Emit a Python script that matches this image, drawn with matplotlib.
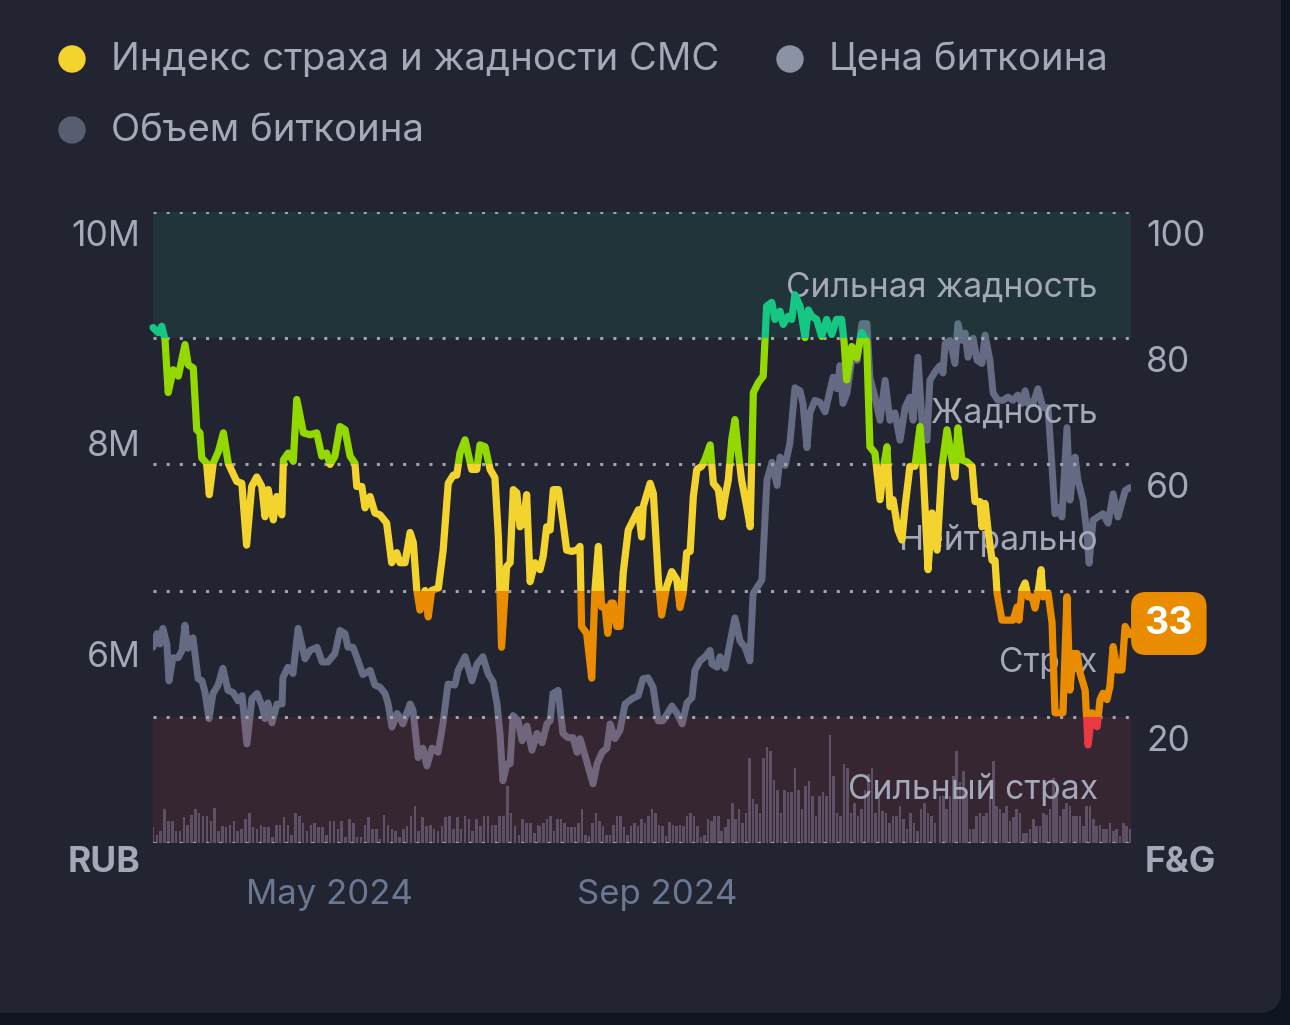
import numpy as np
import matplotlib
matplotlib.use("Agg")
import matplotlib.pyplot as plt
import matplotlib.dates as mdates
from matplotlib.patches import Circle, FancyBboxPatch, Rectangle
from matplotlib.transforms import ScaledTranslation

plt.rcParams['font.family'] = ['Inter', 'DejaVu Sans']

# ---- data ----
start_date = np.datetime64('2024-02-25')

# Fear & Greed index: day offset from start_date, value
fg_day = [0, 2.0, 3.3, 4.5, 5.7, 7.6, 9.5, 12.0, 13.2, 15.1, 16.4, 17.6, 18.3, 20.1, 21.1, 22.6,
          24.5, 26.4, 28.2, 29.5, 31.4, 33.3, 35.1, 37.0, 38.9, 40.8, 42.0, 43.2, 45.1, 46.4,
          48.3, 48.9, 50.7, 52.6, 53.9, 56.4, 58.9, 61.4, 63.3, 65.1, 66.4, 68.2, 70.1, 72.0,
          73.9, 75.7, 76.4, 78.3, 79.5, 81.4, 83.2, 85.1, 87.6, 89.5, 91.4, 92.6, 94.5, 96.4,
          97.6, 98.9, 100.1, 102.0, 103.2, 104.5, 107.0, 108.8, 110.7, 112.6, 113.9, 115.1,
          117.0, 119.5, 121.4, 122.6, 124.5, 126.4, 128.2, 129.5, 130.7, 132.6, 133.9, 135.1,
          136.4, 137.6, 138.9, 140.1, 141.4, 143.2, 145.1, 146.3, 147.6, 148.9, 150.1, 152.0,
          153.8, 155.1, 157.0, 158.9, 160.1, 160.7, 162.6, 164.5, 165.7, 167.0, 168.2, 169.5,
          170.5, 171.7, 172.6, 173.9, 175.1, 176.3, 178.2, 180.1, 182.0, 183.2, 183.8, 186.4,
          187.6, 189.5, 190.7, 192.6, 194.5, 196.4, 197.6, 198.8, 200.1, 201.4, 202.6, 203.9,
          205.7, 207.0, 208.9, 210.1, 212.0, 213.3, 214.5, 215.7, 217.0, 218.2, 219.5, 220.7,
          222.6, 223.9, 225.1, 227.0, 228.8, 230.1, 232.0, 233.2, 235.1, 236.3, 238.2, 239.5,
          240.7, 242.6, 244.5, 245.7, 247.0, 248.8, 250.7, 252.6, 254.5, 256.3, 258.2, 259.1,
          260.1, 262.0, 263.9, 265.7, 267.6, 268.8, 270.7, 272.6, 274.1, 275.2, 276.3, 277.5,
          279.3, 280.8, 282.0, 283.8, 285.7, 287.6, 288.7, 290.6, 292.1, 294.0, 295.8, 297.7,
          299.6, 300.7, 301.8, 303.3, 305.2, 307.1, 308.2, 310.1, 310.8, 312.0, 313.1, 314.6,
          315.7, 316.5, 318.3, 320.6, 322.5, 324.0, 324.7, 325.8, 327.0, 328.1, 329.6, 330.7,
          331.8, 333.0, 333.7, 335.6, 337.1, 338.2, 340.1, 341.2, 342.7, 343.8, 345.0, 346.5,
          347.6, 349.5, 350.6, 352.1, 354.0, 355.1, 356.2, 357.7, 358.8, 360.0, 361.5, 363.3,
          364.5, 366.3]
fg_val = [81.7, 80.9, 81.9, 79.8, 71.4, 75, 74, 79, 75.8, 75.3, 65.5, 65, 61, 60.2, 55.2, 60.2,
          62, 65, 60.2, 59, 57.3, 57, 47.2, 56.5, 58, 56.5, 51.7, 56, 51.2, 54.9,
          52, 60.7, 61.8, 60.5, 70.3, 65, 64.7, 65, 61.3, 61.8, 60, 61.3, 66, 65.5,
          61.3, 60.2, 56.5, 56.5, 53.1, 54.9, 52.3, 52, 50.7, 44.4, 46, 44.4, 44.4, 49.2,
          47.6, 40.1, 36.9, 40, 35.8, 40, 40.4, 46.4, 57, 58.3, 58.3, 61.8,
          63.9, 59.2, 59.2, 63.1, 62.8, 59.2, 57.9, 48.5, 31, 43.8, 44.4, 56,
          55.5, 50.1, 50.7, 55.2, 41.4, 44.4, 43.3, 45.4, 50.1, 49.6, 56, 56,
          50.7, 46.4, 46.2, 46.4, 47, 34.3, 33.2, 26.1, 40, 47, 37.4, 37.4,
          33.2, 38, 38, 34.3, 34.3, 42.8, 49.6, 51.2, 52.8, 48.5, 53.3, 57,
          55.4, 41.7, 36.1, 40.6, 43, 41.7, 37.3, 39.6, 46, 46.2, 54.9, 59.2,
          59.7, 60.8, 63.1, 57, 56, 51.7, 54.9, 57.5, 63.9, 67.1, 61.8, 57.5,
          53.3, 50.1, 71.4, 73, 74, 85.1, 85.7, 83, 84.3, 82.2, 83.5, 83,
          86.9, 85.1, 80.1, 84.5, 83.5, 83, 80.3, 83, 80.6, 83, 83, 79.5,
          73.4, 78.7, 76.9, 80.9, 79.5, 62.8, 61.8, 54.4, 60, 62.8, 53.3, 54.4,
          49.6, 48, 53.3, 59.7, 59.7, 66, 59.7, 43.3, 52.3, 46.4, 59.6, 65.5,
          60.7, 58, 65.8, 60.7, 60.4, 59.7, 54.1, 54.1, 50.1, 53.8, 49.6, 44.8,
          44.8, 39.6, 35.3, 35.3, 35.3, 37.4, 35.3, 40.1, 41.2, 39, 39, 37.2,
          39.6, 43.3, 39, 39.6, 34.9, 20.6, 20.6, 20.6, 39, 24.2, 30, 30,
          26.9, 24.2, 15.5, 20.6, 18.4, 22.7, 23.7, 22.7, 24.8, 31.1, 27.4, 27.4,
          34.3, 33]

# Bitcoin price, million RUB
price_day = [0, 1.5, 2.6, 3.7, 5.2, 6.0, 7.5, 9.4, 10.9, 12.0, 13.1, 15.0, 16.9, 18.4, 19.5, 21.0,
             22.5, 24.4, 26.2, 28.1, 30.0, 31.9, 33.4, 35.2, 37.1, 39.0, 40.9, 42.0, 43.1, 44.6,
             46.5, 48.4, 48.7, 50.6, 52.5, 54.4, 57.0, 58.9, 61.5, 63.4, 65.6, 68.2, 70.1, 72.0,
             73.1, 75.0, 76.9, 78.7, 81.4, 83.2, 85.1, 87.0, 88.1, 89.6, 91.5, 92.6, 93.7, 96.4,
             97.5, 99.4, 101.2, 102.7, 104.6, 106.9, 108.7, 110.6, 113.2, 114.4, 117.0, 119.6,
             121.5, 123.7, 125.6, 127.5, 129.0, 130.1, 131.2, 132.7, 133.9, 135.0, 136.9, 138.4,
             140.2, 142.1, 144.0, 145.9, 147.7, 148.9, 150.0, 151.9, 153.7, 155.6, 157.5, 159.0,
             160.1, 162.0, 163.9, 165.0, 166.5, 168.4, 170.2, 171.4, 173.2, 175.1, 177.0, 179.6,
             181.9, 183.7, 185.6, 187.5, 189.4, 191.2, 194.6, 196.5, 198.4, 200.2, 202.1, 203.2,
             205.1, 207.0, 208.9, 209.6, 211.5, 212.6, 214.5, 216.3, 218.2, 220.1, 222.0, 223.8,
             225.0, 226.5, 228.3, 230.2, 232.1, 234.0, 235.1, 237.0, 238.8, 240.7, 242.6, 243.7,
             245.2, 246.3, 248.2, 250.1, 252.0, 253.8, 255.0, 256.5, 257.6, 258.7, 260.2, 262.1,
             264.0, 265.8, 267.7, 268.8, 270.7, 272.6, 274.5, 276.3, 278.2, 280.1, 282.0, 283.8,
             285.0, 286.8, 288.7, 290.2, 291.3, 293.2, 295.1, 296.2, 297.0, 298.8, 300.7, 301.8,
             303.3, 304.5, 305.6, 307.5, 309.0, 310.8, 312.0, 313.8, 315.0, 316.8, 318.7, 320.6,
             322.5, 324.3, 325.8, 327.0, 328.1, 330.0, 331.8, 333.7, 335.6, 337.1, 338.2, 339.3,
             340.8, 342.7, 343.8, 345.7, 346.8, 348.7, 350.2, 351.0, 352.5, 354.3, 356.2, 358.1,
             360.0, 361.8, 364.5, 366.3]
price_val = [5.86, 5.99, 5.89, 6.04, 5.89, 5.54, 5.76, 5.76, 5.83, 6.07, 5.85, 5.95, 5.56, 5.54, 5.43, 5.18,
             5.42, 5.5, 5.66, 5.45, 5.43, 5.35, 5.4, 4.94, 5.37, 5.42, 5.3, 5.18, 5.33, 5.14,
             5.32, 5.32, 5.57, 5.67, 5.61, 6.04, 5.75, 5.83, 5.86, 5.72, 5.72, 5.8, 6.02, 5.99,
             5.86, 5.86, 5.73, 5.6, 5.64, 5.5, 5.48, 5.42, 5.33, 5.1, 5.23, 5.19, 5.13, 5.32,
             5.26, 4.81, 4.9, 4.73, 4.9, 4.86, 5.13, 5.51, 5.5, 5.64, 5.77, 5.54,
             5.7, 5.77, 5.61, 5.53, 5.32, 5.04, 4.59, 4.75, 4.75, 5.21, 5.16, 4.97,
             5.11, 4.88, 5.04, 4.95, 5.13, 5.16, 5.42, 5.45, 5.04, 5.0, 5.0, 4.86,
             4.99, 4.83, 4.66, 4.56, 4.75, 4.86, 4.9, 5.13, 4.99, 5.07, 5.32, 5.37,
             5.4, 5.56, 5.57, 5.48, 5.16, 5.16, 5.3, 5.23, 5.13, 5.33, 5.38, 5.64,
             5.73, 5.77, 5.83, 5.7, 5.67, 5.77, 5.66, 5.9, 6.14, 5.92, 5.86, 5.73,
             6.37, 6.43, 6.5, 7.45, 7.62, 7.4, 7.67, 7.59, 7.8, 8.33, 8.3, 8.18,
             7.76, 8.09, 8.21, 8.19, 8.1, 8.3, 8.43, 8.32, 8.54, 8.18, 8.28, 8.62,
             8.59, 8.94, 8.94, 8.43, 8.24, 8.02, 8.4, 8.02, 8.09, 7.83, 8.14, 8.24,
             8.02, 8.62, 7.86, 7.83, 8.4, 8.48, 8.54, 8.47, 8.75, 8.78, 8.56, 8.94,
             8.78, 8.85, 8.62, 8.8, 8.59, 8.56, 8.83, 8.59, 8.28, 8.21, 8.21, 8.24,
             8.21, 8.26, 8.18, 8.3, 8.18, 8.18, 8.32, 8.14, 8.14, 7.57, 7.13, 7.19,
             7.1, 7.95, 7.26, 7.67, 7.45, 7.26, 6.94, 6.66, 7.07, 7.1, 7.13, 7.04,
             7.32, 7.1, 7.35, 7.38]

# Bitcoin volume (bn), read in three stretches of dates
vol_early_span = (0.0, 144.4)
vol_early = [17, 9, 13, 37, 24, 24, 13, 13, 28, 20, 31, 37, 33, 30, 30, 24, 38, 13, 19, 17,
             20, 24, 13, 15, 26, 33, 17, 15, 20, 17, 17, 6, 20, 20, 28, 20, 9, 33, 30, 22,
             13, 20, 22, 17, 17, 9, 24, 24, 15, 24, 6, 26, 22, 6, 6, 20, 28, 15, 15, 4,
             31, 20, 15, 13, 6, 15, 19, 30, 41, 13, 28, 19, 20, 15, 13, 19, 28, 30, 15, 28,
             15, 30, 26, 13, 26, 19, 30, 30, 20, 20, 30, 30, 63, 33, 19, 9, 26, 22, 22, 11, 20]
vol_mid_span = (145.1, 293.2)
vol_mid = [19, 22, 26, 30, 13, 26, 26, 22, 17, 17, 17, 22, 37, 9, 7, 22, 33, 24, 19, 9,
           9, 20, 30, 30, 17, 9, 19, 22, 19, 26, 22, 30, 37, 33, 20, 19, 7, 23, 20, 19,
           20, 19, 30, 33, 30, 19, 6, 9, 26, 24, 30, 30, 13, 17, 26, 44, 26, 37, 22, 33,
           94, 48, 43, 33, 94, 106, 102, 70, 59, 33, 59, 56, 56, 83, 59, 37, 63, 69, 52, 30,
           52, 56, 52, 120, 74, 33, 30, 87, 83, 33, 44, 30, 37, 59, 76, 83, 33, 56, 35, 33,
           22, 30, 30, 41, 26, 15, 33, 22, 13, 37, 44, 33, 30, 22]
vol_late_span = (295.1, 366.3)
vol_late = [52, 52, 37, 52, 74, 102, 67, 80, 52, 15, 15, 30, 33, 30, 33, 52, 91, 41, 37, 33,
            41, 24, 28, 37, 33, 11, 11, 15, 26, 19, 19, 33, 31, 37, 72, 52, 30, 37, 44, 41,
            30, 30, 30, 19, 41, 41, 26, 19, 20, 15, 15, 22, 13, 15, 7, 22, 19, 15]

zones = [(80, 200, '#16c784'), (60, 80, '#93d900'), (40, 60, '#f3d42f'),
         (20, 40, '#ea8c00'), (-100, 20, '#ea3943')]
zone_labels = ['Сильная жадность', 'Жадность', 'Нейтрально', 'Страх', 'Сильный страх']
zone_label_pos = [88, 68, 48, 28.5, 8.5]
fg_ticks = [100, 80, 60, 20]
price_ticks = [6, 8, 10]
price_tick_labels = ['6M', '8M', '10M']
current_fg = '33'

# ---- colours ----
card_bg = '#222431'
outer_bg = '#0e1420'
text_col = '#a4a9ba'
date_col = '#6b7891'
price_col = '#646b82'
vol_col = '#4f5369'
grid_col = '#a0a4ae'

x0 = mdates.date2num(start_date)
fg_x = x0 + np.array(fg_day)
price_x = x0 + np.array(price_day)
xlim = (x0, x0 + 366.7)

fig = plt.figure(figsize=(12.9, 10.25), dpi=100)
fig.patch.set_facecolor(outer_bg)

# background card + legend, in pixel coordinates
bg = fig.add_axes([0, 0, 1, 1])
bg.set_xlim(0, 1290)
bg.set_ylim(1025, 0)
bg.axis('off')
bg.add_patch(FancyBboxPatch((-40, -40), 1321, 1053, boxstyle='round,pad=0,rounding_size=22',
                            fc=card_bg, ec='none'))
legend = [((72, 59), '#f3d42f', 'Индекс страха и жадности CMC'),
          ((790, 59), '#8c92a6', 'Цена биткоина'),
          ((72, 130), '#585e72', 'Объем биткоина')]
for (cx, cy), c, lab in legend:
    bg.add_patch(Circle((cx, cy), 13, color=c))
    bg.text(cx + 39, cy + 1, lab, fontsize=27.5, color=text_col, va='center', ha='left')
bg.text(140, 862, 'RUB', ha='right', va='center', fontsize=25.5, weight='bold', color=text_col)
bg.text(1145, 862, 'F&G', ha='left', va='center', fontsize=25.5, weight='bold', color=text_col)

rect = [153 / 1290, (1025 - 842.7) / 1025, 978 / 1290, 630.5 / 1025]
ax_vol = fig.add_axes(rect)
ax_price = fig.add_axes(rect)
ax = fig.add_axes(rect)
for a in (ax_vol, ax_price, ax):
    a.set_facecolor('none')
    for s in a.spines.values():
        s.set_visible(False)
    a.set_xlim(*xlim)
    a.tick_params(length=0)

# volume bars
for vals, (d0, d1) in [(vol_early, vol_early_span), (vol_mid, vol_mid_span), (vol_late, vol_late_span)]:
    xs = x0 + np.linspace(d0, d1, len(vals))
    ax_vol.bar(xs, vals, width=0.95, color=vol_col, linewidth=0)
ax_vol.set_ylim(0, 700)
ax_vol.set_xticks([])
ax_vol.set_yticks([])

# price line
ax_price.plot(price_x, price_val, color=price_col, lw=5, solid_joinstyle='round',
              solid_capstyle='round')
ax_price.set_ylim(4, 10)
ax_price.set_xticks([])
ax_price.set_yticks(price_ticks, labels=price_tick_labels)
ax_price.tick_params(axis='y', labelsize=25.5, labelcolor=text_col, pad=9)

# F&G layer
ax.set_ylim(0, 100)
ax.axhspan(80, 100, color='#16c784', alpha=0.1, lw=0, zorder=1)
ax.axhspan(0, 20, color='#ea3943', alpha=0.1, lw=0, zorder=1)
for v in [100, 80, 60, 40, 20, 0]:
    ax.axhline(v, color=grid_col, lw=2.2, ls=(0, (1, 3.3)), dash_capstyle='butt', zorder=2)
for lab, v in zip(zone_labels, zone_label_pos):
    ax.text(0.966, v, lab, transform=ax.get_yaxis_transform(), ha='right', va='center',
            fontsize=24.2, color=text_col, zorder=3)
for lo, hi, c in zones:
    ln, = ax.plot(fg_x, fg_val, color=c, lw=5.2, solid_joinstyle='round',
                  solid_capstyle='round', zorder=5)
    clip = Rectangle((xlim[0] - 50, lo), 500, hi - lo, transform=ax.transData)
    ln.set_clip_path(clip)

ax.yaxis.tick_right()
ax.set_yticks(fg_ticks)
ax.tick_params(axis='y', labelsize=25.5, labelcolor=text_col, pad=11)
ax.xaxis.set_major_locator(mdates.MonthLocator(bymonth=[5, 9]))
ax.xaxis.set_major_formatter(mdates.DateFormatter('%b %Y'))
ax.tick_params(axis='x', labelsize=25, labelcolor=date_col, pad=26)

shift = ScaledTranslation(0, -0.21, fig.dpi_scale_trans)
for lab in ax.get_yticklabels() + ax_price.get_yticklabels():
    lab.set_transform(lab.get_transform() + shift)

ax.annotate(current_fg, xy=(fg_x[-1], fg_val[-1]), xytext=(28, 8), textcoords='offset points',
            ha='center', va='center', fontsize=27, weight='bold', color='white',
            bbox=dict(boxstyle='round,pad=0.36,rounding_size=0.4', fc='#ea8c00', ec='none'),
            annotation_clip=False, zorder=10)

fig.savefig('out.png', dpi=100, facecolor=fig.get_facecolor())
